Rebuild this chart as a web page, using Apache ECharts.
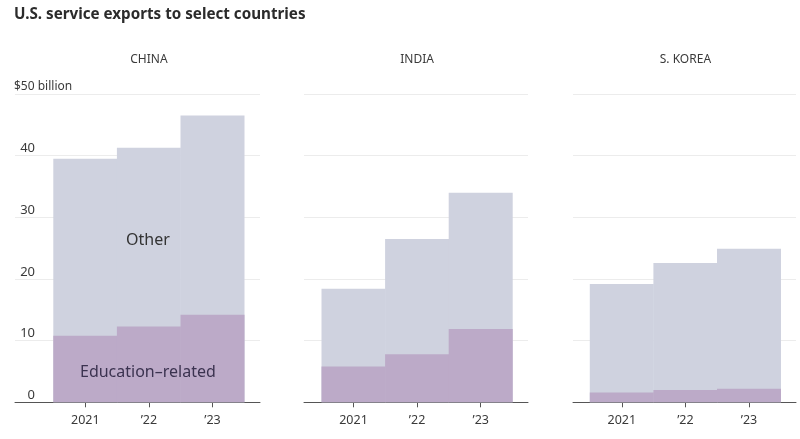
<!DOCTYPE html>
<html>
<head>
<meta charset="utf-8">
<style>
  html, body { margin: 0; padding: 0; background: #fff; }
  #main { width: 800px; height: 439px; }
</style>
<script src="https://cdn.jsdelivr.net/npm/echarts@6/dist/echarts.min.js"></script>
</head>
<body>
<div id="main"></div>
<script>
var FONT = '"Noto Sans", sans-serif';
var TEXT = '#3a3a3a';
var years = [2021, 2022, 2023];
// 每个面板：数值单位十亿美元，left/right 是横轴线范围，barLeft 是第一根柱子的左边
var panels = [
  { name: 'CHINA', left: 15, right: 260, barLeft: 53.5, edu: [10.8, 12.3, 14.2], total: [39.5, 41.3, 46.5] },
  { name: 'INDIA', left: 304, right: 528, barLeft: 321.7, edu: [5.8, 7.8, 11.9], total: [18.4, 26.5, 34.0] },
  { name: 'S. KOREA', left: 573, right: 796, barLeft: 590, edu: [1.6, 2.0, 2.2], total: [19.2, 22.6, 24.9] }
];
var BAND = 63.6; // 一年的像素宽度

var option = {
  backgroundColor: '#fff',
  animation: false,
  textStyle: { fontFamily: FONT },
  title: [{
    text: 'U.S. service exports to select countries',
    left: 14, top: 7, padding: 0,
    textStyle: { fontFamily: FONT, fontSize: 15.2, fontWeight: 'bold', color: '#2b2b2b' }
  }],
  grid: [], xAxis: [], yAxis: [], series: [],
  graphic: [
    { type: 'text', z: 100, left: 14, top: 81, style: { text: '$50 billion', font: '12px ' + FONT, fill: TEXT } },
    { type: 'text', z: 100, left: 126, top: 232, style: { text: 'Other', font: '16px ' + FONT, fill: '#333' } },
    { type: 'text', z: 100, left: 80, top: 364, style: { text: 'Education\u2013related', font: '16px ' + FONT, fill: '#3b3350' } }
  ]
};

panels.forEach(function (p, i) {
  var xMin = 2021 - (p.barLeft + BAND / 2 - p.left) / BAND;
  var xMax = xMin + (p.right - p.left) / BAND;
  option.grid.push({ left: p.left, width: p.right - p.left, top: 94, height: 308.3, outerBoundsMode: 'none' });
  option.title.push({
    text: p.name,
    left: p.barLeft + BAND * 1.5, top: 54, textAlign: 'center', padding: 0,
    textStyle: { fontFamily: FONT, fontSize: 12, fontWeight: 'normal', color: TEXT }
  });
  option.xAxis.push({
    type: 'value', gridIndex: i, min: xMin, max: xMax,
    splitLine: { show: false },
    axisLine: { lineStyle: { color: '#555', width: 1 } },
    axisTick: { show: true, customValues: years, length: 5, lineStyle: { color: '#555' } },
    axisLabel: {
      customValues: years, margin: 12, fontFamily: FONT, fontSize: 12.5, color: TEXT,
      formatter: function (v) { return v === 2021 ? '2021' : "\u2019" + String(v).slice(2); }
    }
  });
  option.yAxis.push({
    type: 'value', gridIndex: i, min: 0, max: 50, interval: 10,
    axisLine: { show: false },
    axisTick: { show: false },
    splitLine: { lineStyle: { color: '#ececec', width: 1 } },
    axisLabel: {
      show: i === 0, inside: true, margin: 20, align: 'right', verticalAlign: 'bottom',
      fontFamily: FONT, fontSize: 13, color: TEXT, lineHeight: 14,
      formatter: function (v) { return v === 50 ? '' : String(v); }
    }
  });
  // 不用 stack：两根值轴时 stack 会叠到 x 上，这里总量在后、教育在前
  option.series.push({
    type: 'bar', name: 'Other', xAxisIndex: i, yAxisIndex: i,
    barWidth: BAND + 0.4, barGap: '-100%', itemStyle: { color: '#cfd2df' },
    data: years.map(function (y, k) { return [y, p.total[k]]; })
  });
  option.series.push({
    type: 'bar', name: 'Education-related', xAxisIndex: i, yAxisIndex: i,
    barWidth: BAND + 0.4, barGap: '-100%', itemStyle: { color: '#bcaac8' },
    data: years.map(function (y, k) { return [y, p.edu[k]]; })
  });
});

var chart = echarts.init(document.getElementById('main'));
chart.setOption(option);
</script>
</body>
</html>
